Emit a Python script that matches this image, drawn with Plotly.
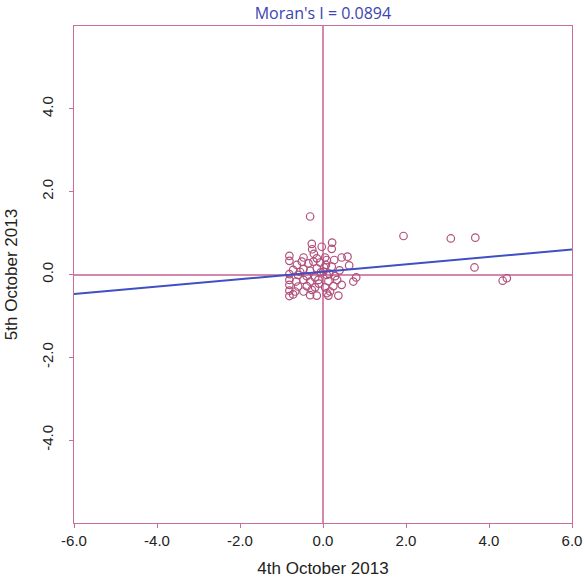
import plotly.graph_objects as go

# Data: standardized values (x: 4th Oct 2013, y: spatial lag 5th Oct 2013)
x_vals = [-0.31, -0.27, -0.26, -0.03, 0.22, 0.21, -0.22, -0.81, -0.81, -0.47,
          -0.15, 0.05, 0.09, 0.27, 0.45, 0.59, 0.63, -0.63, -0.51, -0.35,
          -0.23, -0.07, 0.07, 0.21, -0.72, -0.47, -0.31, -0.15, 0.01, -0.81,
          -0.60, -0.39, -0.19, 0.09, 0.29, 0.80, 0.73, -0.81, -0.65, -0.47,
          -0.31, -0.11, 0.13, 0.34, 0.45, -0.81, -0.60, -0.39, -0.19, 0.05,
          0.25, -0.81, -0.67, -0.47, -0.27, 0.17, -0.81, -0.72, -0.31, -0.15,
          0.09, 0.13, 0.37, -0.05, 0.03, -0.10, 0.15, -0.55, 0.40,
          1.94, 3.08, 3.67, 3.65, 4.33, 4.43]
y_vals = [1.40, 0.74, 0.61, 0.67, 0.77, 0.62, 0.50, 0.45, 0.33, 0.41,
          0.39, 0.41, 0.35, 0.35, 0.41, 0.43, 0.22, 0.23, 0.31, 0.27,
          0.31, 0.29, 0.23, 0.19, 0.11, 0.13, 0.09, 0.15, 0.07, 0.01,
          -0.01, -0.04, -0.07, -0.01, -0.04, -0.07, -0.17, -0.13, -0.17, -0.13,
          -0.17, -0.13, -0.16, -0.13, -0.25, -0.25, -0.29, -0.28, -0.31, -0.31,
          -0.28, -0.39, -0.41, -0.41, -0.37, -0.41, -0.52, -0.48, -0.50, -0.51,
          -0.45, -0.51, -0.51, 0.05, 0.17, -0.22, 0.02, 0.06, 0.10,
          0.93, 0.87, 0.89, 0.17, -0.15, -0.09]

morans_i = 0.0894
intercept = 0.066
line_x = [-6.0, 6.0]
line_y = [intercept + morans_i * v for v in line_x]

x_ticks = [-6, -4, -2, 0, 2, 4, 6]
y_ticks = [-4, -2, 0, 2, 4]
x_tick_text = [f"{v:.1f}" for v in x_ticks]
y_tick_text = [f"{v:.1f}" for v in y_ticks]

axis_col = "#c96e9a"
zero_col = "#d488ad"
text_col = "#222222"

fig = go.Figure()
fig.add_trace(go.Scatter(
    x=x_vals, y=y_vals, mode="markers",
    marker=dict(symbol="circle-open", size=7.5, color="#b0507b", line=dict(width=1.2)),
    showlegend=False, hoverinfo="skip"))
fig.add_trace(go.Scatter(
    x=line_x, y=line_y, mode="lines",
    line=dict(color="#3f4fc4", width=2), showlegend=False, hoverinfo="skip"))

common = dict(showgrid=False, zeroline=True, zerolinecolor=zero_col, zerolinewidth=1.5,
              showline=True, linecolor=axis_col, linewidth=1.2, mirror=True,
              ticks="outside", ticklen=4, tickcolor=axis_col, automargin=False,
              tickfont=dict(family="Liberation Sans, Arial", size=15, color=text_col),
              range=[-6, 6])

fig.update_layout(
    width=585, height=582,
    margin=dict(l=74, r=13, t=26, b=59),
    paper_bgcolor="white", plot_bgcolor="white",
    title=dict(text="Moran's I = 0.0894", x=0.552, xanchor="center",
               y=1 - 13 / 582, yanchor="middle",
               font=dict(family="Open Sans, Liberation Sans", size=16, color="#3b44b0")),
    xaxis=dict(**common, tickvals=x_ticks, ticktext=x_tick_text,
               title=dict(text="4th October 2013", standoff=14,
                          font=dict(family="Liberation Sans, Arial", size=17, color=text_col))),
    yaxis=dict(**common, tickvals=y_ticks, ticktext=y_tick_text, tickangle=-90,
               ticklabelstandoff=10,
               title=dict(text="5th October 2013", standoff=16,
                          font=dict(family="Liberation Sans, Arial", size=17, color=text_col))),
)

fig.write_html("out.html")
